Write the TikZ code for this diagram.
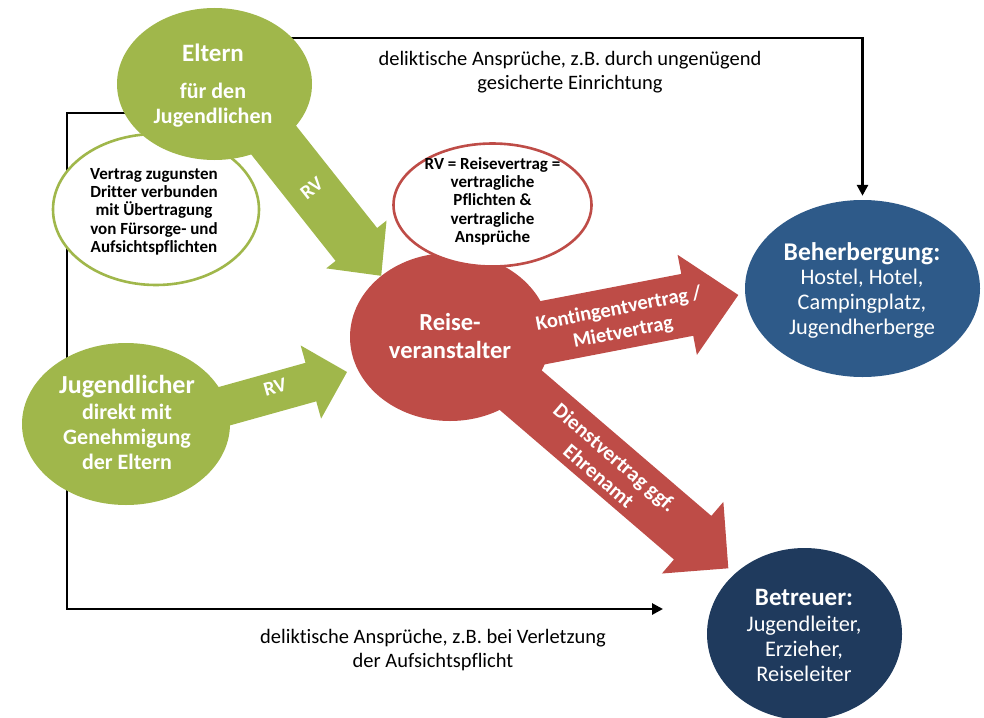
\documentclass[tikz,border=0pt]{standalone}
\usepackage{fontspec}
\setmainfont{Carlito}[Ligatures={NoCommon}]
\usetikzlibrary{calc,arrows.meta,shapes.geometric}
\definecolor{cgreen}{RGB}{160,183,75}
\definecolor{cred}{RGB}{190,76,71}
\definecolor{cblue}{RGB}{46,90,137}
\definecolor{cnavy}{RGB}{31,58,93}
\pgfdeclarelayer{bg}
\pgfsetlayers{bg,main}
\newcommand{\fatarrow}[6]{% fill, tail, tip, half shaft, half head, head length
  \path ($(#3)!#6!(#2)$) coordinate (fa-h);
  \fill[#1] ($(#2)!#4!90:(#3)$) -- ($(fa-h)!#4!90:(#3)$) -- ($(fa-h)!#5!90:(#3)$) -- (#3)
    -- ($(fa-h)!#5!-90:(#3)$) -- ($(fa-h)!#4!-90:(#3)$) -- ($(#2)!#4!-90:(#3)$) -- cycle;
}
\tikzset{
  ell/.style={ellipse, draw=none, inner sep=0pt},
  ln/.style={line width=2.7pt, black},
  tipend/.style={-{Triangle[length=11pt,width=11pt]}},
  wb/.style={text=white, font=\bfseries\fontsize{#1}{#1}\selectfont, anchor=base, inner sep=0pt},
  wr/.style={text=white, font=\fontsize{#1}{#1}\selectfont, anchor=base, inner sep=0pt},
  kb/.style={text=black, font=\bfseries\fontsize{#1}{#1}\selectfont, anchor=base, inner sep=0pt},
  kr/.style={text=black, font=\fontsize{#1}{#1}\selectfont, anchor=base, inner sep=0pt},
  arrlbl/.style={text=white, align=center, inner sep=0pt},
}
\begin{document}
\begin{tikzpicture}[x=1pt,y=-1pt]
\useasboundingbox (0,0) rectangle (984,717);

% ---------- shapes ----------
\node[ell, fill=white, draw=cgreen, line width=2.6pt, minimum width=206pt, minimum height=151pt] (vz) at (156,209.5) {};

\coordinate (a1s) at (255.2,116.8); \coordinate (a1e) at (381.2,275.8);
\coordinate (a2s) at (200,413);     \coordinate (a2e) at (347,372);
\coordinate (a3s) at (493.5,342.2); \coordinate (a3e) at (738.3,295);
\coordinate (a4s) at (452.9,332);   \coordinate (a4e) at (728.3,568.3);
\fatarrow{cgreen}{a1s}{a1e}{26.5pt}{38.5pt}{40pt}
\fatarrow{cgreen}{a2s}{a2e}{20pt}{38pt}{37.5pt}
\fatarrow{cred}{a3s}{a3e}{31.5pt}{51pt}{52pt}
\fatarrow{cred}{a4s}{a4e}{28.7pt}{47.2pt}{47pt}

\node[ell, fill=cgreen, minimum width=195pt, minimum height=152pt] (eltern) at (214.5,84) {};
\node[ell, fill=cgreen, minimum width=208pt, minimum height=162pt] (jug) at (126,424) {};
\node[ell, fill=cred, minimum width=200pt, minimum height=168pt] (reise) at (450,337) {};
\node[ell, fill=white, draw=cred, line width=2.6pt, minimum width=198pt, minimum height=123pt] (rv) at (492.5,205) {};
\node[ell, fill=cblue, minimum width=235pt, minimum height=177pt] (beh) at (862.5,288.5) {};
\node[ell, fill=cnavy, minimum width=195pt, minimum height=172pt] (betr) at (804.5,634) {};

% ---------- black connectors ----------
\coordinate (t0) at (250,38);
\coordinate (l0) at (200,113);
\coordinate (lc1) at (67,113);
\coordinate (lc2) at (67,609);
\coordinate (lend) at (663,609);
\begin{pgfonlayer}{bg}
  \draw[ln, tipend, shorten >=4pt] (t0) -| (beh.north);
  \draw[ln, tipend] (l0) -- (lc1) -- (lc2) -- (lend);
\end{pgfonlayer}

% ---------- texts ----------
\node[wb=25] (el1) at (213,62) {Eltern};
\node[wb=22] (el2) at (213,98) {für den};
\node[wb=22] (el3) at (213,123) {Jugendlichen};

\node[kb=17] (vz1) at (154,179.3) {Vertrag zugunsten};
\node[kb=17] (vz2) at (154,197.5) {Dritter verbunden};
\node[kb=17] (vz3) at (154,215.8) {mit Übertragung};
\node[kb=17] (vz4) at (154,234) {von Fürsorge- und};
\node[kb=17] (vz5) at (154,252.3) {Aufsichtspflichten};

\node[kb=17] (rv1) at (492.5,169.3) {RV = Reisevertrag =};
\node[kb=17] (rv2) at (492.5,187.6) {vertragliche};
\node[kb=17] (rv3) at (492.5,205.9) {Pflichten \&};
\node[kb=17] (rv4) at (492.5,224.2) {vertragliche};
\node[kb=17] (rv5) at (492.5,242.5) {Ansprüche};

\node[wb=24.5] (re1) at (450,330) {Reise-};
\node[wb=24.5] (re2) at (450,358) {veranstalter};

\node[wb=26] (ju1) at (127,393.3) {Jugendlicher};
\node[wb=22] (ju2) at (127,419.3) {direkt mit};
\node[wb=22] (ju3) at (127,444.3) {Genehmigung};
\node[wb=22] (ju4) at (127,469.3) {der Eltern};

\node[wb=25.5] (be1) at (862,260) {Beherbergung:};
\node[wr=22.3] (be2) at (862,284.5) {Hostel, Hotel,};
\node[wr=22.3] (be3) at (862,309.5) {Campingplatz,};
\node[wr=22.3] (be4) at (862,334.5) {Jugendherberge};

\node[wb=25] (bt1) at (804,605) {Betreuer:};
\node[wr=22.3] (bt2) at (804,631.5) {Jugendleiter,};
\node[wr=22.3] (bt3) at (804,656.5) {Erzieher,};
\node[wr=22.3] (bt4) at (804,681.5) {Reiseleiter};

\node[kr=20.5] (tl1) at (570,65) {deliktische Ansprüche, z.B. durch ungenügend};
\node[kr=20.5] (tl2) at (570,89) {gesicherte Einrichtung};
\node[kr=20.5] (bl1) at (433,643) {deliktische Ansprüche, z.B. bei Verletzung};
\node[kr=20.5] (bl2) at (433,667) {der Aufsichtspflicht};

\node[arrlbl, font=\bfseries\fontsize{20}{24}\selectfont, rotate=38.4] (rvA) at (311.7,188.3) {RV};
\node[arrlbl, font=\bfseries\fontsize{20}{24}\selectfont, rotate=15.8] (rvB) at (275,387.3) {RV};
\node[arrlbl, font=\bfseries\fontsize{20.5}{24}\selectfont, rotate=10.9] (kv) at (621,321) {Kontingentvertrag /\\Mietvertrag};
\node[arrlbl, font=\bfseries\fontsize{21}{24.5}\selectfont, rotate=-40.65] (dv) at (607,466.7) {Dienstvertrag ggf.\\Ehrenamt};
\end{tikzpicture}
\end{document}
